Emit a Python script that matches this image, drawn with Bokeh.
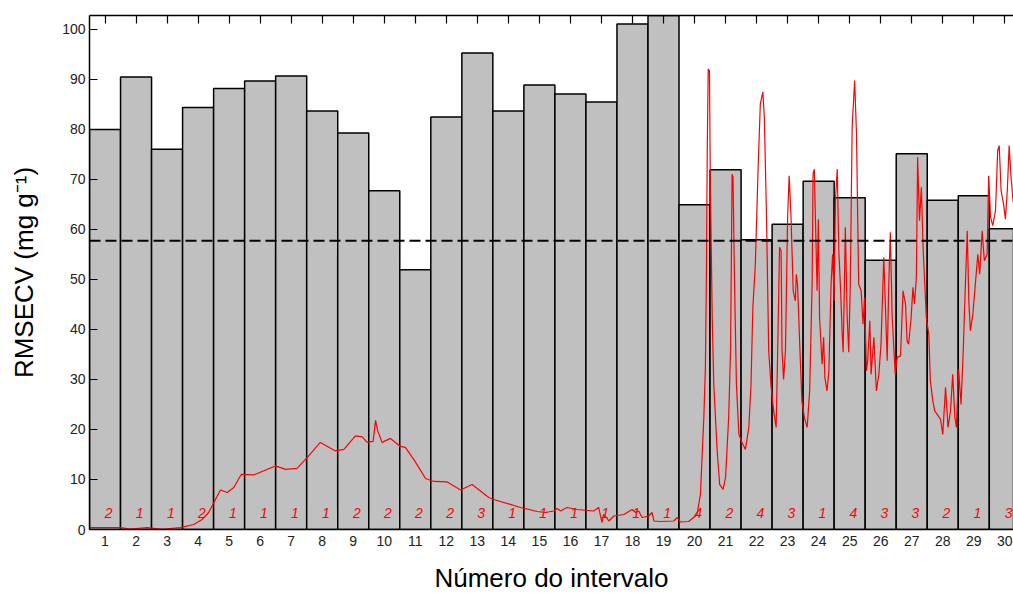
from bokeh.plotting import figure
from bokeh.models import Range1d, LinearAxis, FixedTicker, Span, ColumnDataSource
from bokeh.core.properties import value
from bokeh.embed import file_html
from bokeh.resources import INLINE

# ---- data ----
intervals = list(range(1, 31))
rmsecv = [79.9, 90.4, 76.0, 84.3, 88.1, 89.6, 90.6, 83.6, 79.2, 67.7,
          51.9, 82.4, 95.2, 83.6, 88.8, 87.0, 85.4, 101.0, 104.0, 64.9,
          71.9, 57.9, 61.0, 69.6, 66.3, 53.8, 75.1, 65.8, 66.7, 60.1]
n_lv = ["2", "1", "1", "2", "1", "1", "1", "1", "2", "2",
        "2", "2", "3", "1", "1", "1", "1", "1", "1", "4",
        "2", "4", "3", "1", "4", "3", "3", "2", "1", "3"]
global_rmsecv = 57.7
y_ticks = [0, 10, 20, 30, 40, 50, 60, 70, 80, 90, 100]

spec_x = [0.50, 1.50, 1.82, 2.36, 2.84, 3.43, 3.86, 4.13, 4.34, 4.51, 4.72, 4.94, 5.15, 5.39, 5.79,
          6.49, 6.82, 7.19, 7.52, 7.94, 8.43, 8.70, 9.07, 9.29, 9.45, 9.64, 9.72, 9.79, 9.93, 10.20,
          10.52, 10.68, 10.95, 11.11, 11.33, 11.60, 12.03, 12.46, 12.83, 13.37, 13.53, 14.39, 14.93,
          15.20, 15.46, 15.57, 15.68, 15.89, 16.22, 16.75, 16.91, 16.97, 17.02, 17.07, 17.24, 17.40,
          17.72, 17.99, 18.10, 18.20, 18.31, 18.52, 18.63, 18.69, 18.90, 19.33, 19.44, 19.55, 19.81,
          19.97, 20.08, 20.19, 20.30, 20.35, 20.38, 20.41, 20.44, 20.48, 20.51, 20.57, 20.62, 20.73,
          20.81, 20.92, 21.00, 21.10, 21.16, 21.19, 21.21, 21.24, 21.29, 21.35, 21.43, 21.53, 21.64,
          21.75, 21.82, 21.88, 21.96, 22.05, 22.12, 22.20, 22.25, 22.32, 22.39, 22.47, 22.55, 22.63,
          22.68, 22.74, 22.79, 22.82, 22.87, 22.93, 23.00, 23.05, 23.11, 23.18, 23.25, 23.28, 23.32,
          23.39, 23.46, 23.54, 23.63, 23.71, 23.79, 23.82, 23.86, 23.92, 23.95, 23.99, 24.03, 24.11,
          24.16, 24.20, 24.27, 24.33, 24.40, 24.45, 24.50, 24.54, 24.60, 24.65, 24.70, 24.76, 24.79,
          24.83, 24.86, 24.92, 24.97, 25.02, 25.08, 25.16, 25.22, 25.29, 25.37, 25.43, 25.48, 25.54,
          25.58, 25.65, 25.69, 25.78, 25.86, 25.94, 26.01, 26.10, 26.15, 26.21, 26.26, 26.31, 26.37,
          26.47, 26.53, 26.64, 26.72, 26.80, 26.85, 26.90, 26.98, 27.04, 27.09, 27.15, 27.19, 27.25,
          27.31, 27.37, 27.42, 27.47, 27.55, 27.60, 27.68, 27.74, 27.82, 27.93, 28.00, 28.09, 28.17,
          28.25, 28.32, 28.39, 28.44, 28.51, 28.59, 28.66, 28.73, 28.79, 28.84, 28.89, 28.97, 29.05,
          29.13, 29.19, 29.27, 29.34, 29.43, 29.48, 29.54, 29.61, 29.70, 29.77, 29.82, 29.88, 29.96,
          30.02, 30.08, 30.14, 30.20, 30.27]
spec_y = [0.36, 0.36, 0.10, 0.36, 0.05, 0.36, 1.0, 2.0, 3.4, 5.4, 7.9, 7.4, 8.4, 11.0, 10.9,
          12.7, 12.0, 12.2, 14.4, 17.4, 15.7, 16.0, 18.7, 18.5, 17.4, 17.6, 21.8, 19.7, 17.4, 18.2,
          16.6, 16.4, 14.0, 12.4, 10.2, 9.6, 9.5, 7.9, 9.0, 6.4, 6.0, 4.4, 3.6,
          3.4, 3.7, 4.2, 3.7, 4.4, 4.0, 3.7, 4.4, 2.7, 1.4, 3.0, 1.7, 2.7,
          3.0, 4.0, 3.4, 3.7, 2.4, 2.7, 3.4, 1.7, 1.6, 1.7, 2.4, 1.5, 1.6,
          2.4, 3.0, 7.0, 22.4, 32.4, 49.0, 75.7, 92.0, 91.7, 69.0, 42.4, 29.0, 15.7,
          9.0, 8.0, 10.4, 22.4, 35.7, 55.7, 71.0, 70.4, 49.0, 29.0, 19.0, 17.4, 16.0,
          20.4, 29.0, 44.4, 53.0, 72.4, 85.0, 87.4, 82.4, 62.4, 35.7, 28.4, 23.7, 20.4,
          35.7, 56.4, 55.7, 35.7, 30.0, 35.7, 62.4, 70.7, 62.4, 47.7, 45.7, 51.0, 49.0,
          37.0, 25.7, 22.4, 20.4, 27.7, 49.0, 71.0, 72.0, 55.7, 47.7, 62.0, 42.4, 33.0,
          38.4, 30.4, 27.7, 31.7, 49.0, 55.0, 45.7, 65.7, 72.0, 55.7, 49.0, 39.0, 35.4,
          49.0, 60.4, 42.4, 35.4, 49.0, 80.4, 89.7, 79.0, 49.0, 47.7, 41.0, 46.4, 31.7,
          33.7, 41.7, 31.0, 38.4, 27.7, 31.0, 37.0, 54.4, 45.0, 33.7, 49.0, 59.4, 42.4,
          31.0, 34.4, 34.7, 47.7, 45.0, 37.7, 37.0, 42.4, 48.4, 45.0, 50.4, 74.4, 61.7,
          68.4, 55.7, 49.0, 42.4, 39.0, 29.7, 25.7, 23.7, 23.0, 22.0, 19.0, 28.4, 20.4,
          23.7, 31.0, 22.4, 20.4, 32.0, 25.0, 35.7, 49.0, 59.7, 45.7, 39.7, 43.0, 49.0,
          55.0, 51.0, 59.7, 53.7, 55.0, 70.7, 62.4, 60.7, 63.7, 75.7, 76.7, 67.7, 65.0,
          62.0, 67.7, 76.7, 70.4, 65.4]

FONT = "Liberation Sans"

p = figure(width=1013, height=596,
           x_range=Range1d(0.5, 30.28), y_range=Range1d(0, 102.7),
           output_backend="svg", toolbar_location=None,
           min_border_left=89, min_border_right=0, min_border_top=15, min_border_bottom=67)
p.background_fill_color = "white"
p.border_fill_color = "white"
p.grid.visible = False
p.outline_line_color = None

bars = ColumnDataSource(dict(x=intervals, top=rmsecv))
p.vbar(x="x", top="top", bottom=0, width=1.0, source=bars,
       fill_color="#c0c0c0", line_color="black", line_width=1.5)

p.add_layout(Span(location=global_rmsecv, dimension="width", line_color="black",
                  line_width=2, line_dash="11 5"))

p.line(spec_x, spec_y, line_color="#ff0000", line_width=1.2)

lab = ColumnDataSource(dict(x=[i + 0.12 for i in intervals], y=[3.2] * len(intervals), t=n_lv))
p.text(x="x", y="y", text="t", source=lab, text_color="#ff0000",
       text_font=value(FONT), text_font_size="14px", text_font_style="italic",
       text_align="center", text_baseline="middle")

# bottom axis
xa = p.xaxis[0]
xa.ticker = FixedTicker(ticks=intervals)
xa.major_tick_in = 0
xa.major_tick_out = 0
xa.minor_tick_in = 0
xa.minor_tick_out = 0
xa.axis_line_color = "black"
xa.axis_line_width = 1.5
xa.major_label_text_font = FONT
xa.major_label_text_font_size = "14px"
xa.major_label_text_color = "#222222"
xa.major_label_standoff = 6
xa.axis_label = "Número do intervalo"
xa.axis_label_text_font = FONT
xa.axis_label_text_font_size = "26px"
xa.axis_label_text_font_style = "normal"
xa.axis_label_text_color = "black"
xa.axis_label_standoff = 14

# left axis
ya = p.yaxis[0]
ya.ticker = FixedTicker(ticks=y_ticks)
ya.major_tick_in = 8
ya.major_tick_out = 0
ya.minor_tick_in = 0
ya.minor_tick_out = 0
ya.major_tick_line_width = 1.2
ya.axis_line_color = "black"
ya.axis_line_width = 1.5
ya.major_label_text_font = FONT
ya.major_label_text_font_size = "14px"
ya.major_label_text_color = "#222222"
ya.major_label_standoff = 4
ya.axis_label = "RMSECV (mg g\u207b\u00b9)"
ya.axis_label_text_font = FONT
ya.axis_label_text_font_size = "26px"
ya.axis_label_text_font_style = "normal"
ya.axis_label_text_color = "black"
ya.axis_label_standoff = 20

# top axis (ticks only, no labels)
top_ax = LinearAxis(ticker=FixedTicker(ticks=intervals),
                    major_label_overrides={i: "" for i in intervals},
                    major_label_standoff=0,
                    major_tick_in=8, major_tick_out=0, major_tick_line_width=1.2,
                    minor_tick_in=0, minor_tick_out=0,
                    axis_line_color="black", axis_line_width=1.5)
p.add_layout(top_ax, "above")

open("out.html", "w").write(file_html(p, INLINE))
